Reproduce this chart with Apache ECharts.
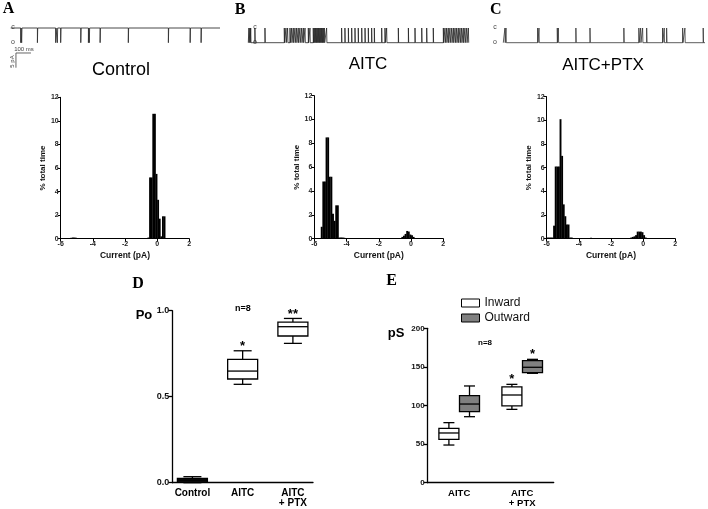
<!DOCTYPE html>
<html><head><meta charset="utf-8">
<script src="https://cdn.jsdelivr.net/npm/echarts@6/dist/echarts.min.js"></script>
<style>html,body{margin:0;padding:0;background:#fff}#c{width:708px;height:509px}</style>
</head><body><div id="c"></div>
<script>
// ================= DATA =================
// Single-channel traces (A: openings from closed level, B/C: closings from open level), event times in ms
const traceA_events_ms = [67,73,178,300,311,333,467,518,524,596,784,1051,1196,1269];
const traceA_duration_ms = 1395;
const traceB_events_ms = [4,11,16,44,111,240,251,262,278,289,300,311,322,333,344,356,367,378,400,411,433,440,447,453,460,467,473,480,487,493,500,507,522,622,644,667,689,711,733,756,778,800,822,840,889,911,922,1000,1067,1111,1156,1189,1233,1300,1311,1322,1333,1344,1356,1367,1378,1389,1400,1411,1422,1433,1444,1456,1467];
const traceB_duration_ms = 1471;
const traceC_events_ms = [11,18,229,238,360,367,484,578,804,904,916,929,956,1062,1073,1089,1196,1211,1333];
const traceC_duration_ms = 1345;
const closed_pA = 0, open_pA = -5;
const eventWidth_ms = 2;
const scaleBar_ms = 100, scaleBar_pA = 5;
const scaleBarOrigin = [35, -8.5]; // [ms, pA] in trace A frame

// All-points histograms (bin centre in pA, % total time)
const histBinWidth = 0.1;
const histA_pA  = [-5.35,-5.25,-5.15,-5.05,-0.55,-0.45,-0.35,-0.25,-0.15,-0.05,0.05,0.15,0.25,0.35,0.45];
const histA_pct = [0.08,0.1,0.1,0.08,0.1,5.2,5.2,10.6,10.6,5.5,3.3,1.7,0.2,1.9,1.9];
const histB_pA  = [-5.55,-5.45,-5.35,-5.25,-5.15,-5.05,-4.95,-4.85,-4.75,-4.65,-4.55,-4.45,-4.35,-4.25,-4.15,-4.05,-0.65,-0.55,-0.45,-0.35,-0.25,-0.15,-0.05,0.05,0.15,0.25];
const histB_pct = [1.0,4.8,4.8,8.5,8.5,5.2,5.2,2.1,1.5,2.8,2.8,0.1,0.1,0.1,0.08,0.05,0.05,0.15,0.25,0.4,0.65,0.6,0.35,0.3,0.15,0.05];
const histC_pA  = [-5.95,-5.85,-5.75,-5.65,-5.55,-5.45,-5.35,-5.25,-5.15,-5.05,-4.95,-4.85,-4.75,-4.65,-4.55,-4.45,-4.05,-3.25,-0.85,-0.75,-0.65,-0.55,-0.45,-0.35,-0.25,-0.15,-0.05,0.05,0.15,0.25];
const histC_pct = [0.1,0.1,0.1,0.1,1.1,6.1,6.1,6.1,10.1,7.0,2.9,1.9,1.2,1.2,0.1,0.1,0.06,0.08,0.05,0.1,0.15,0.2,0.3,0.6,0.6,0.6,0.55,0.3,0.1,0.05];

// D: open probability
const catsD = ['Control','AITC','AITC\n+ PTX'];
const poMin = [0.0, 0.572, 0.81];
const poQ1  = [0.005, 0.603, 0.853];
const poMed = [0.015, 0.649, 0.907];
const poQ3  = [0.025, 0.717, 0.934];
const poMax = [0.035, 0.767, 0.955];
const sigD  = ['', '*', '**'];

// E: conductance (pS)
const catsE = ['AITC','AITC\n+ PTX'];
const inwardMin = [48.8, 95.0], inwardQ1 = [56.2, 99.4], inwardMed = [64.4, 113.6], inwardQ3 = [70.4, 124.0], inwardMax = [77.8, 127.4];
const outwardMin = [85.5, 141.7], outwardQ1 = [92.0, 142.5], outwardMed = [101.9, 149.5], outwardQ3 = [112.7, 158.0], outwardMax = [125.3, 159.8];
const sigInward = ['', '*'], sigOutward = ['', '*'];

// ================= CHART =================
const SANS = 'Liberation Sans, Arial, sans-serif';
const SERIF = 'Liberation Serif, Times New Roman, serif';
const chart = echarts.init(document.getElementById('c'), null, {renderer:'canvas', width:708, height:509});

function traceData(events, dur, base, peak) {
  const d = [[0, base]];
  events.forEach(t => { d.push([t, base], [t, peak], [t + eventWidth_ms, peak], [t + eventWidth_ms, base]); });
  d.push([dur, base]);
  return d;
}
function traceSeries(gi, data, color, w) {
  return {type:'line', xAxisIndex:gi, yAxisIndex:gi, data, showSymbol:false, clip:false, animation:false,
    lineStyle:{color, width:w || 0.8}, silent:true};
}
function histSeries(gi, xs, ys) {
  return {type:'custom', xAxisIndex:gi, yAxisIndex:gi, animation:false, silent:true,
    data: xs.map((x, i) => [x, ys[i]]),
    renderItem(params, api) {
      const x = api.value(0), y = api.value(1);
      const p0 = api.coord([x - histBinWidth / 2, y]);
      const p1 = api.coord([x + histBinWidth / 2, 0]);
      return {type:'rect', shape:{x:p0[0], y:p0[1], width:p1[0] - p0[0] + 0.3, height:p1[1] - p0[1]}, style:{fill:'#000'}};
    }};
}
function boxSeries(name, gi, mins, q1s, meds, q3s, maxs, sigs, fills, offsetPx, boxW, capW) {
  return {type:'custom', name, xAxisIndex:gi, yAxisIndex:gi, clip:false, animation:false, silent:true,
    itemStyle:{color:fills[0], borderColor:'#000', borderWidth:1},
    data: mins.map((m, i) => [i, m, q1s[i], meds[i], q3s[i], maxs[i]]),
    renderItem(params, api) {
      const i = api.value(0);
      const cx = api.coord([i, 0])[0] + offsetPx;
      const y = k => api.coord([i, api.value(k)])[1];
      const yMin = y(1), yQ1 = y(2), yMed = y(3), yQ3 = y(4), yMax = y(5);
      const ls = {stroke:'#000', lineWidth:1.3};
      const children = [
        {type:'line', shape:{x1:cx, y1:yMax, x2:cx, y2:yQ3}, style:ls},
        {type:'line', shape:{x1:cx, y1:yQ1, x2:cx, y2:yMin}, style:ls},
        {type:'line', shape:{x1:cx - capW / 2, y1:yMax, x2:cx + capW / 2, y2:yMax}, style:ls},
        {type:'line', shape:{x1:cx - capW / 2, y1:yMin, x2:cx + capW / 2, y2:yMin}, style:ls},
        {type:'rect', shape:{x:cx - boxW / 2, y:yQ3, width:boxW, height:yQ1 - yQ3}, style:{fill:fills[i], stroke:'#000', lineWidth:1.3}},
        {type:'line', shape:{x1:cx - boxW / 2, y1:yMed, x2:cx + boxW / 2, y2:yMed}, style:ls}
      ];
      if (sigs[i]) children.push({type:'text', x:cx, y:yMax + 2, style:{text:sigs[i], textAlign:'center', textVerticalAlign:'bottom', fontSize:13, fontWeight:'bold', fontFamily:SANS, fill:'#000'}});
      return {type:'group', children};
    }};
}

const grids = [
  {left:10.7, top:28, width:209.3, height:44.1},
  {left:248.3, top:28, width:220.7, height:14.7},
  {left:503.3, top:28, width:201.7, height:14.7},
  {left:60.7, top:97.3, width:128.6, height:141.4},
  {left:314.3, top:95.7, width:129, height:143},
  {left:546.7, top:96.7, width:128.6, height:142},
  {left:172.3, top:310.7, width:140.7, height:172},
  {left:427.7, top:328.3, width:126, height:154.4}
];

const hidden = (gi, min, max) => ({gridIndex:gi, type:'value', min, max, show:false});
function histX(gi) {
  return {gridIndex:gi, type:'value', min:-6, max:2, interval:2,
    name:'Current (pA)', nameLocation:'middle', nameGap:12,
    nameTextStyle:{fontSize:8.5, fontWeight:'bold', fontFamily:SANS, color:'#111'},
    axisLine:{show:true, onZero:false, lineStyle:{color:'#000', width:1}},
    axisTick:{show:true, length:3, lineStyle:{color:'#000', width:1}},
    axisLabel:{fontSize:7, fontWeight:'bold', fontFamily:SANS, color:'#222', margin:2},
    splitLine:{show:false}};
}
function histY(gi) {
  return {gridIndex:gi, type:'value', min:0, max:12, interval:2,
    name:'% total time', nameLocation:'middle', nameGap:12, nameRotate:90,
    nameTextStyle:{fontSize:8, fontWeight:'bold', fontFamily:SANS, color:'#111'},
    axisLine:{show:true, onZero:false, lineStyle:{color:'#000', width:1}},
    axisTick:{show:true, length:3, lineStyle:{color:'#000', width:1}},
    axisLabel:{fontSize:7, fontWeight:'bold', fontFamily:SANS, color:'#222', margin:2},
    splitLine:{show:false}};
}

const xAxes = [
  hidden(0, 0, traceA_duration_ms), hidden(1, 0, traceB_duration_ms), hidden(2, 0, traceC_duration_ms),
  histX(3), histX(4), histX(5),
  {gridIndex:6, type:'value', min:-0.4, max:2.4,
    axisLine:{show:true, onZero:false, lineStyle:{color:'#000', width:1.3}}, axisTick:{show:false}, splitLine:{show:false},
    axisLabel:{customValues:[0,1,2], formatter:v => catsD[Math.round(v)], fontSize:10, fontWeight:'bold', fontFamily:SANS, color:'#000', lineHeight:10, margin:6}},
  {gridIndex:7, type:'value', min:-0.5, max:1.5,
    axisLine:{show:true, onZero:false, lineStyle:{color:'#000', width:1.3}}, axisTick:{show:false}, splitLine:{show:false},
    axisLabel:{customValues:[0,1], formatter:v => catsE[Math.round(v)], fontSize:9.5, fontWeight:'bold', fontFamily:SANS, color:'#000', lineHeight:10, margin:6}}
];
const yAxes = [
  hidden(0, -15, 0), hidden(1, -5, 0), hidden(2, -5, 0),
  histY(3), histY(4), histY(5),
  {gridIndex:6, type:'value', min:0, max:1, interval:0.5,
    axisLine:{show:true, onZero:false, lineStyle:{color:'#000', width:1.3}},
    axisTick:{show:true, length:4, lineStyle:{color:'#000', width:1.3}}, splitLine:{show:false},
    axisLabel:{formatter:v => v.toFixed(1), fontSize:9, fontWeight:'bold', fontFamily:SANS, color:'#111', margin:3}},
  {gridIndex:7, type:'value', min:0, max:200, interval:50,
    axisLine:{show:true, onZero:false, lineStyle:{color:'#000', width:1.3}},
    axisTick:{show:true, length:4, lineStyle:{color:'#000', width:1.3}}, splitLine:{show:false},
    axisLabel:{fontSize:8, fontWeight:'bold', fontFamily:SANS, color:'#111', margin:3}}
];

const [sx, sy] = scaleBarOrigin;
const series = [
  traceSeries(0, traceData(traceA_events_ms, traceA_duration_ms, closed_pA, open_pA), '#333', 0.9),
  traceSeries(1, traceData(traceB_events_ms, traceB_duration_ms, open_pA, closed_pA), '#222', 0.8),
  traceSeries(2, traceData(traceC_events_ms, traceC_duration_ms, open_pA, closed_pA), '#333', 0.8),
  traceSeries(0, [[sx + scaleBar_ms, sy], [sx, sy], [sx, sy - scaleBar_pA]], '#555', 0.9),
  histSeries(3, histA_pA, histA_pct),
  histSeries(4, histB_pA, histB_pct),
  histSeries(5, histC_pA, histC_pct),
  boxSeries('Po', 6, poMin, poQ1, poMed, poQ3, poMax, sigD, ['#111','#fff','#fff'], 0, 30, 18),
  boxSeries('Inward', 7, inwardMin, inwardQ1, inwardMed, inwardQ3, inwardMax, sigInward, ['#fff','#fff'], -10.3, 20, 11),
  boxSeries('Outward', 7, outwardMin, outwardQ1, outwardMed, outwardQ3, outwardMax, sigOutward, ['#808080','#808080'], 10.3, 20, 11)
];

function txt(text, x, y, size, opt) {
  return Object.assign({type:'text', x, y, silent:true,
    style:Object.assign({text, textAlign:'center', textVerticalAlign:'middle', fontSize:size, fontFamily:SANS, fill:'#000'}, (opt && opt.style) || {})},
    (opt && opt.el) || {});
}
const letter = (t, x, y) => txt(t, x, y, 16, {style:{fontFamily:SERIF, fontWeight:'bold'}});
const graphic = [
  letter('A', 8.5, 9), letter('B', 240, 10), letter('C', 495.7, 10), letter('D', 138, 284), letter('E', 391.7, 281),
  txt('Control', 121, 70, 18), txt('AITC', 368, 64, 17), txt('AITC+PTX', 603, 65, 17),
  txt('c', 13, 27, 7, {style:{fill:'#444'}}), txt('o', 13, 42, 7, {style:{fill:'#444'}}),
  txt('c', 255, 27, 7, {style:{fill:'#444'}}), txt('o', 255, 42, 7, {style:{fill:'#444'}}),
  txt('c', 495, 27, 7, {style:{fill:'#444'}}), txt('o', 495, 42, 7, {style:{fill:'#444'}}),
  txt('100 ms', 24, 49.5, 6, {style:{fill:'#444'}}),
  txt('5 pA', 12, 61.5, 6, {style:{fill:'#444'}, el:{rotation:Math.PI / 2}}),
  txt('Po', 144, 315, 13, {style:{fontWeight:'bold'}}),
  txt('n=8', 243, 309, 9, {style:{fontWeight:'bold'}}),
  txt('pS', 396, 333, 13, {style:{fontWeight:'bold'}}),
  txt('n=8', 485, 343, 8, {style:{fontWeight:'bold'}})
];

chart.setOption({
  animation:false,
  backgroundColor:'#fff',
  grid:grids,
  xAxis:xAxes,
  yAxis:yAxes,
  series,
  graphic,
  legend:{left:456, top:292, orient:'vertical', itemWidth:18, itemHeight:8, itemGap:3, selectedMode:false,
    data:[{name:'Inward', icon:'rect', itemStyle:{color:'#fff', borderColor:'#000', borderWidth:1}},
          {name:'Outward', icon:'rect', itemStyle:{color:'#808080', borderColor:'#000', borderWidth:1}}],
    textStyle:{fontSize:12, fontFamily:SANS, color:'#111'}}
});
</script></body></html>
